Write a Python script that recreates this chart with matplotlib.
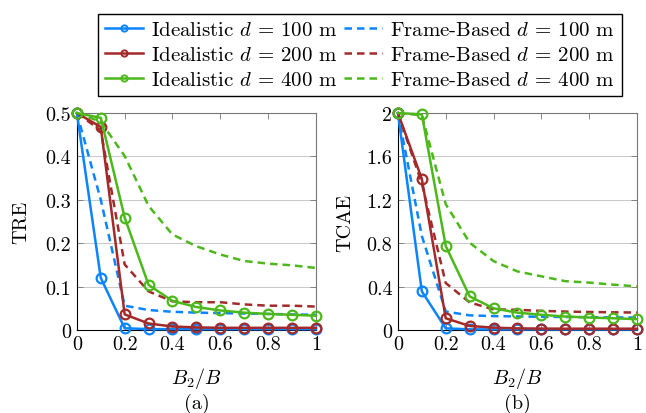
import numpy as np
import matplotlib
matplotlib.use("Agg")
import matplotlib.pyplot as plt
from matplotlib.lines import Line2D

plt.rcParams.update({
    "font.family": "serif",
    "font.serif": ["cmr10", "DejaVu Serif"],
    "mathtext.fontset": "cm",
    "axes.formatter.use_mathtext": True,
    "font.size": 14.5,
})

# --- data ---
ratio = [0, 0.1, 0.2, 0.3, 0.4, 0.5, 0.6, 0.7, 0.8, 0.9, 1.0]
distances = [100, 200, 400]

tre_ideal_100 = [0.5, 0.12, 0.004, 0.002, 0.002, 0.002, 0.002, 0.002, 0.002, 0.002, 0.002]
tre_ideal_200 = [0.5, 0.468, 0.036, 0.015, 0.008, 0.006, 0.005, 0.005, 0.005, 0.005, 0.005]
tre_ideal_400 = [0.5, 0.489, 0.259, 0.104, 0.067, 0.053, 0.045, 0.040, 0.037, 0.035, 0.033]
tre_frame_100 = [0.5, 0.30, 0.056, 0.046, 0.042, 0.040, 0.039, 0.038, 0.037, 0.036, 0.035]
tre_frame_200 = [0.5, 0.46, 0.151, 0.089, 0.066, 0.064, 0.064, 0.059, 0.056, 0.056, 0.054]
tre_frame_400 = [0.5, 0.48, 0.401, 0.286, 0.220, 0.193, 0.174, 0.159, 0.153, 0.149, 0.143]

tcae_ideal_100 = [2.0, 0.356, 0.015, 0.006, 0.005, 0.005, 0.005, 0.005, 0.005, 0.005, 0.005]
tcae_ideal_200 = [2.0, 1.393, 0.108, 0.037, 0.022, 0.015, 0.013, 0.012, 0.012, 0.012, 0.012]
tcae_ideal_400 = [2.0, 1.988, 0.774, 0.310, 0.200, 0.160, 0.140, 0.124, 0.115, 0.108, 0.100]
tcae_frame_100 = [2.0, 0.867, 0.170, 0.135, 0.128, 0.125, 0.122, 0.120, 0.118, 0.116, 0.115]
tcae_frame_200 = [2.0, 1.35, 0.433, 0.254, 0.190, 0.186, 0.176, 0.170, 0.166, 0.163, 0.161]
tcae_frame_400 = [2.0, 1.98, 1.160, 0.805, 0.635, 0.540, 0.495, 0.450, 0.437, 0.418, 0.402]

colors = ["#0a84ff", "#a32a2a", "#4cb81c"]
DASH = (0, (3.0, 2.0))

panels = [
    ("TRE", [tre_ideal_100, tre_ideal_200, tre_ideal_400],
     [tre_frame_100, tre_frame_200, tre_frame_400], 0.5, [0, 0.1, 0.2, 0.3, 0.4, 0.5],
     ["0", "0.1", "0.2", "0.3", "0.4", "0.5"], "(a)", -0.234),
    ("TCAE", [tcae_ideal_100, tcae_ideal_200, tcae_ideal_400],
     [tcae_frame_100, tcae_frame_200, tcae_frame_400], 2.0, [0, 0.4, 0.8, 1.2, 1.6, 2.0],
     ["0", "0.4", "0.8", "1.2", "1.6", "2"], "(b)", -0.222),
]

fig = plt.figure(figsize=(6.46, 4.14), dpi=100)
lefts = [0.119, 0.616]

for left, (ylab, ideal, frame, ymax, yt, ytl, tag, ylx) in zip(lefts, panels):
    ax = fig.add_axes([left, 0.2005, 0.370, 0.524])
    for c, yi, yf in zip(colors, ideal, frame):
        ax.plot(ratio, yf, color=c, lw=1.8, ls=DASH, zorder=2)
        ax.plot(ratio, yi, color=c, lw=1.8, marker="o", ms=7, mfc="none",
                mew=1.6, zorder=3, clip_on=False)
    ax.set_xlim(0, 1)
    ax.set_ylim(0, ymax)
    ax.set_yticks(yt)
    ax.set_yticklabels(ytl)
    ax.set_xticks([0, 0.2, 0.4, 0.6, 0.8, 1.0])
    ax.set_xticklabels(["0", "0.2", "0.4", "0.6", "0.8", "1"])
    ax.grid(True, axis="y", color="#c8c8c8", lw=0.7)
    ax.tick_params(direction="in", top=True, right=True, length=4, width=0.6,
                   color="#777777", pad=4)
    for name, s in ax.spines.items():
        s.set_linewidth(0.8)
        s.set_color("black" if name in ("left", "bottom") else "#777777")
    ax.set_ylabel(ylab, va="center")
    ax.yaxis.set_label_coords(ylx, 0.5)
    ax.set_xlabel("$B_2/B$", va="center")
    ax.xaxis.set_label_coords(0.5, -0.217)
    ax.text(0.5, -0.336, tag, transform=ax.transAxes, ha="center", va="center")

handles = []
labels = []
for c, d in zip(colors, distances):
    handles.append(Line2D([], [], color=c, lw=1.8, marker="o", ms=4.5, mfc="none", mew=1.4))
    labels.append(f"Idealistic $d$ = {d} m")
for c, d in zip(colors, distances):
    handles.append(Line2D([], [], color=c, lw=1.8, ls=DASH))
    labels.append(f"Frame-Based $d$ = {d} m")

fig.legend(handles, labels, ncol=2, loc="upper center", bbox_to_anchor=(0.5575, 0.99),
           frameon=True, fancybox=False, edgecolor="black", fontsize=15,
           handlelength=1.8, handletextpad=0.4, columnspacing=0.3, labelspacing=0.3,
           borderpad=0.35, framealpha=1)

fig.savefig("out.png", dpi=100)
